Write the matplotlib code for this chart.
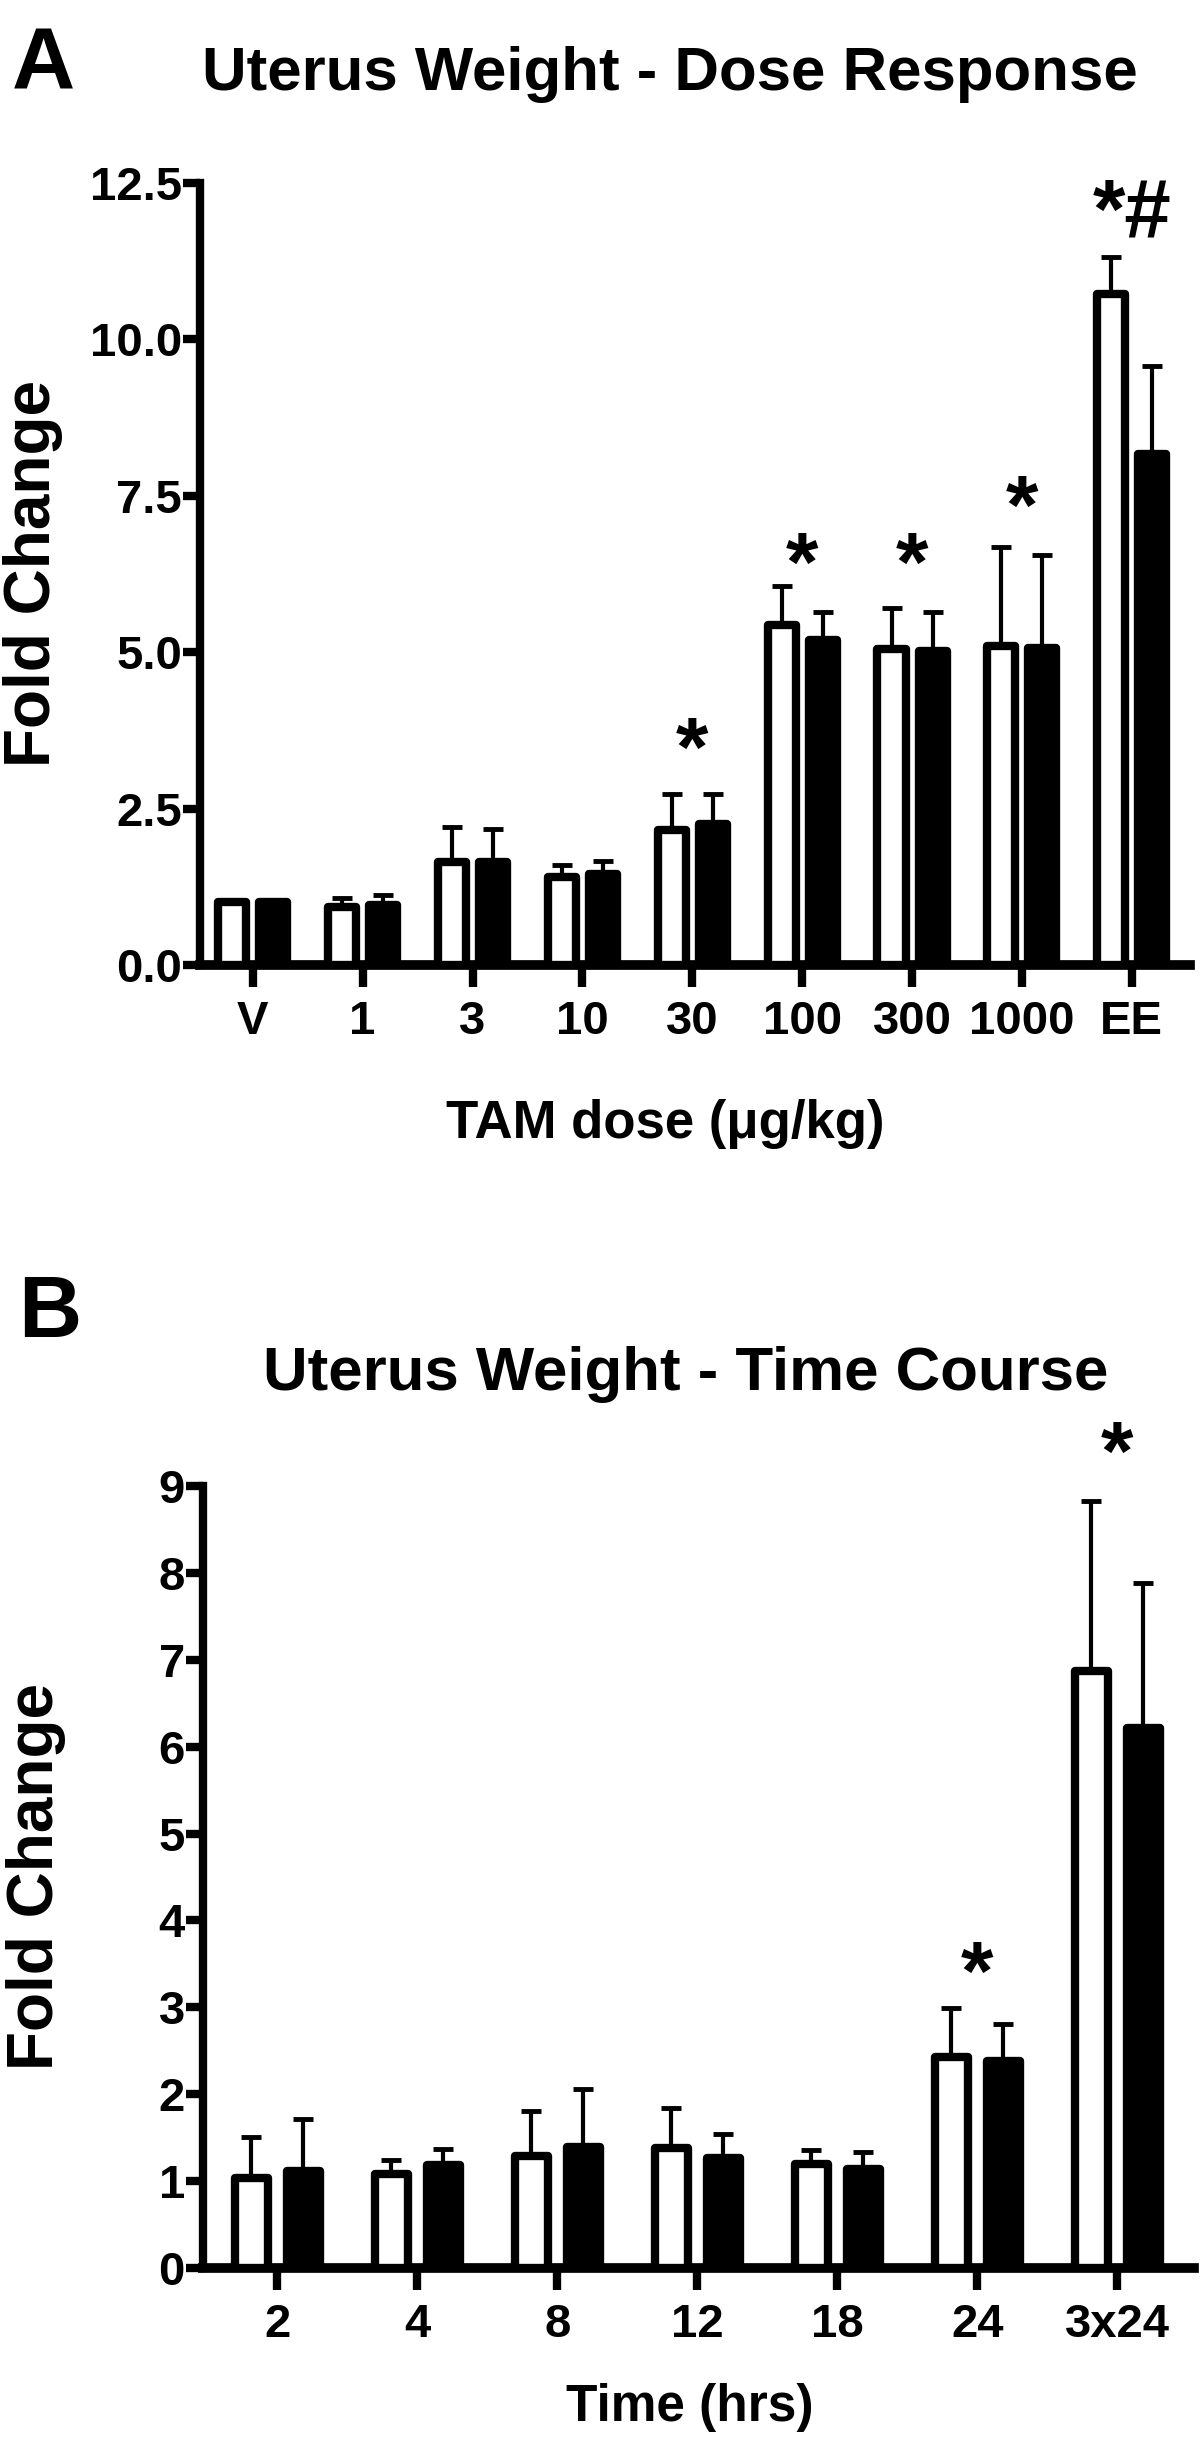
import matplotlib
matplotlib.use("Agg")
import matplotlib.pyplot as plt

# ----- Panel A: uterus weight, dose response -----
dose_labels = ["V", "1", "3", "10", "30", "100", "300", "1000", "EE"]
dose_open = [1.0, 0.93, 1.64, 1.41, 2.16, 5.44, 5.05, 5.10, 10.73]
dose_open_err = [0.0, 0.14, 0.57, 0.18, 0.58, 0.61, 0.66, 1.58, 0.58]
dose_filled = [1.0, 0.96, 1.64, 1.45, 2.25, 5.20, 5.02, 5.07, 8.17]
dose_filled_err = [0.0, 0.16, 0.54, 0.21, 0.49, 0.44, 0.62, 1.48, 1.40]
dose_marks = ["", "", "", "", "*", "*", "*", "*", "*#"]
dose_mark_y = [0, 0, 0, 0, 3.6, 6.55, 6.55, 7.47, 12.2]
dose_yticks = [0.0, 2.5, 5.0, 7.5, 10.0, 12.5]

# ----- Panel B: uterus weight, time course -----
time_labels = ["2", "4", "8", "12", "18", "24", "3x24"]
time_open = [1.04, 1.08, 1.29, 1.38, 1.20, 2.43, 6.87]
time_open_err = [0.47, 0.16, 0.52, 0.46, 0.16, 0.56, 1.96]
time_filled = [1.11, 1.18, 1.39, 1.27, 1.14, 2.38, 6.22]
time_filled_err = [0.60, 0.19, 0.67, 0.27, 0.19, 0.43, 1.66]
time_marks = ["", "", "", "", "", "*", "*"]
time_mark_y = [0, 0, 0, 0, 0, 3.5, 9.48]
time_yticks = list(range(0, 10))

FONT = ["Liberation Sans", "DejaVu Sans"]


def draw_panel(ax, labels, open_vals, open_err, filled_vals, filled_err,
               marks, mark_y, yticks, ytick_fmt, width, xlim):
    x = list(range(len(labels)))
    off = 0.187
    xo = [i - off for i in x]
    xf = [i + off for i in x]
    ax.bar(xo, open_vals, width=width, color="white", edgecolor="black",
           linewidth=6, joinstyle="round", zorder=3)
    ax.bar(xf, filled_vals, width=width, color="black", edgecolor="black",
           linewidth=6, joinstyle="round", zorder=3)
    ax.errorbar(xo, open_vals, yerr=[[0] * len(x), open_err], fmt="none",
                ecolor="black", elinewidth=3, capsize=7.5, capthick=3.5, zorder=2)
    ax.errorbar(xf, filled_vals, yerr=[[0] * len(x), filled_err], fmt="none",
                ecolor="black", elinewidth=3, capsize=7.5, capthick=3.5, zorder=2)

    # significance marks above groups
    for i, (m, y) in enumerate(zip(marks, mark_y)):
        if m:
            ax.annotate(m, (i, y), xytext=(0, -10), textcoords="offset points",
                        ha="center", va="center", fontsize=60,
                        fontweight="bold", family=FONT, annotation_clip=False)

    ax.set_xlim(*xlim)
    ax.set_ylim(yticks[0], yticks[-1])
    ax.set_xticks(x)
    ax.set_xticklabels(labels, family=FONT, fontweight="bold", fontsize=34)
    ax.set_yticks(yticks)
    ax.set_yticklabels([ytick_fmt.format(t) for t in yticks], family=FONT,
                       fontweight="bold", fontsize=34)
    ax.spines["top"].set_visible(False)
    ax.spines["right"].set_visible(False)
    ax.spines["left"].set_linewidth(6)
    ax.spines["bottom"].set_linewidth(7)
    ax.tick_params(axis="y", length=12, width=6, pad=1)
    ax.tick_params(axis="x", length=16, width=6, pad=9)
    ax.set_ylabel("Fold Change", family=FONT, fontweight="bold", fontsize=46)
    ax.yaxis.set_label_coords(-0.138, 0.5)


fig = plt.figure(figsize=(12, 24.59), dpi=100)

axA = fig.add_axes([0.1667, 0.6076, 0.825, 0.318])
draw_panel(axA, dose_labels, dose_open, dose_open_err, dose_filled,
           dose_filled_err, dose_marks, dose_mark_y, dose_yticks, "{:.1f}",
           0.255, (-0.48, 8.53))
axA.set_xlabel("TAM dose (\u03bcg/kg)", family=FONT, fontweight="bold",
               fontsize=38)
axA.xaxis.set_label_coords(0.47, -0.171)

axB = fig.add_axes([0.1692, 0.0777, 0.826, 0.318])
draw_panel(axB, time_labels, time_open, time_open_err, time_filled,
           time_filled_err, time_marks, time_mark_y, time_yticks, "{:d}",
           0.235, (-0.53, 6.55))
axB.set_xlabel("Time (hrs)", family=FONT, fontweight="bold", fontsize=37)
axB.xaxis.set_label_coords(0.491, -0.147)

fig.text(0.558, 0.9634, "Uterus Weight - Dose Response", ha="center",
         va="baseline", family=FONT, fontweight="bold", fontsize=44.5)
fig.text(0.571, 0.4347, "Uterus Weight - Time Course", ha="center",
         va="baseline", family=FONT, fontweight="bold", fontsize=44.5)
fig.text(0.01, 0.9642, "A", ha="left", va="baseline", family=FONT,
         fontweight="bold", fontsize=63)
fig.text(0.015, 0.4563, "B", ha="left", va="baseline", family=FONT,
         fontweight="bold", fontsize=63)

fig.savefig("out.png", dpi=100)
